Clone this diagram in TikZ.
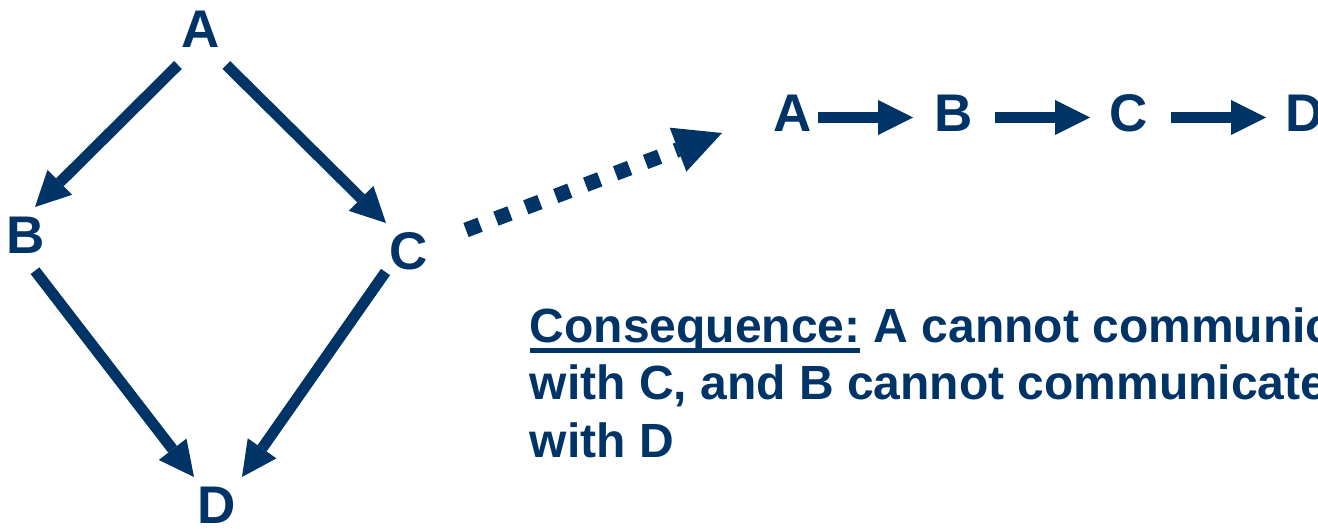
\documentclass[tikz,border=0pt]{standalone}
\usepackage{fontspec}
\setmainfont{Liberation Sans}
\usetikzlibrary{arrows.meta,calc}
\definecolor{navy}{HTML}{003366}
\newcommand\thickul[1]{\setbox0\hbox{#1}\rlap{\rule[-10.5pt]{\wd0}{5pt}}\box0\relax}
\begin{document}
\begin{tikzpicture}[x=1pt,y=-1pt,
  lbl/.style={font=\fontsize{53}{60}\selectfont\bfseries, text=navy, inner sep=0pt, anchor=base},
  solidarrow/.style={draw=navy, line width=11pt, -{Triangle[length=35pt,width=35pt,line width=0pt]}},
  chainarrow/.style={solidarrow, line width=11.5pt},
  dotarrow/.style={draw=navy, line width=15pt, dash pattern=on 15pt off 17pt, -{Triangle[length=47pt,width=47pt,line width=0pt]}},
  note/.style={font=\fontsize{48}{57.5}\selectfont\bfseries, text=navy, inner sep=0pt, align=left, anchor=base west}]
\useasboundingbox (0,0) rectangle (1318,528);
\clip (0,0) rectangle (1318,528);
% left diamond
\node[lbl] (A) at (201,47) {A};
\node[lbl] (B) at (25.5,253) {B};
\node[lbl] (C) at (409,269) {C};
\node[lbl] (D) at (216.5,523) {D};
\draw[solidarrow] ($(A.base)+(-23,18)$) -- ($(B.base)+(9.5,-46)$);
\draw[solidarrow] ($(A.base)+(25.3,18)$) -- ($(C.base)+(-23,-46)$);
\draw[solidarrow] ($(B.base)+(9.5,17.7)$) -- ($(D.base)+(-22.5,-46)$);
\draw[solidarrow] ($(C.base)+(-23.5,3)$) -- ($(D.base)+(25.5,-46)$);
% chain
\node[lbl] (A2) at (793,131.5) {A};
\node[lbl] (B2) at (953.5,131.5) {B};
\node[lbl] (C2) at (1129,131.5) {C};
\node[lbl] (D2) at (1305,131.5) {D};
\draw[chainarrow] ($(A2.base)+(25,-14)$) -- ($(B2.base)+(-40.5,-14)$);
\draw[chainarrow] ($(B2.base)+(41.5,-14)$) -- ($(C2.base)+(-39,-14)$);
\draw[chainarrow] ($(C2.base)+(42,-14)$) -- ($(D2.base)+(-39,-14)$);
% dotted arrow
\draw[dotarrow] ($(C.base)+(57,-39)$) -- ($(A2.base)+(-71,1.5)$);
% note
\node[note] (cons) at (529.5,457) {\thickul{Consequence:} A cannot communicate\\with C, and B cannot communicate\\with D};
\end{tikzpicture}
\end{document}
